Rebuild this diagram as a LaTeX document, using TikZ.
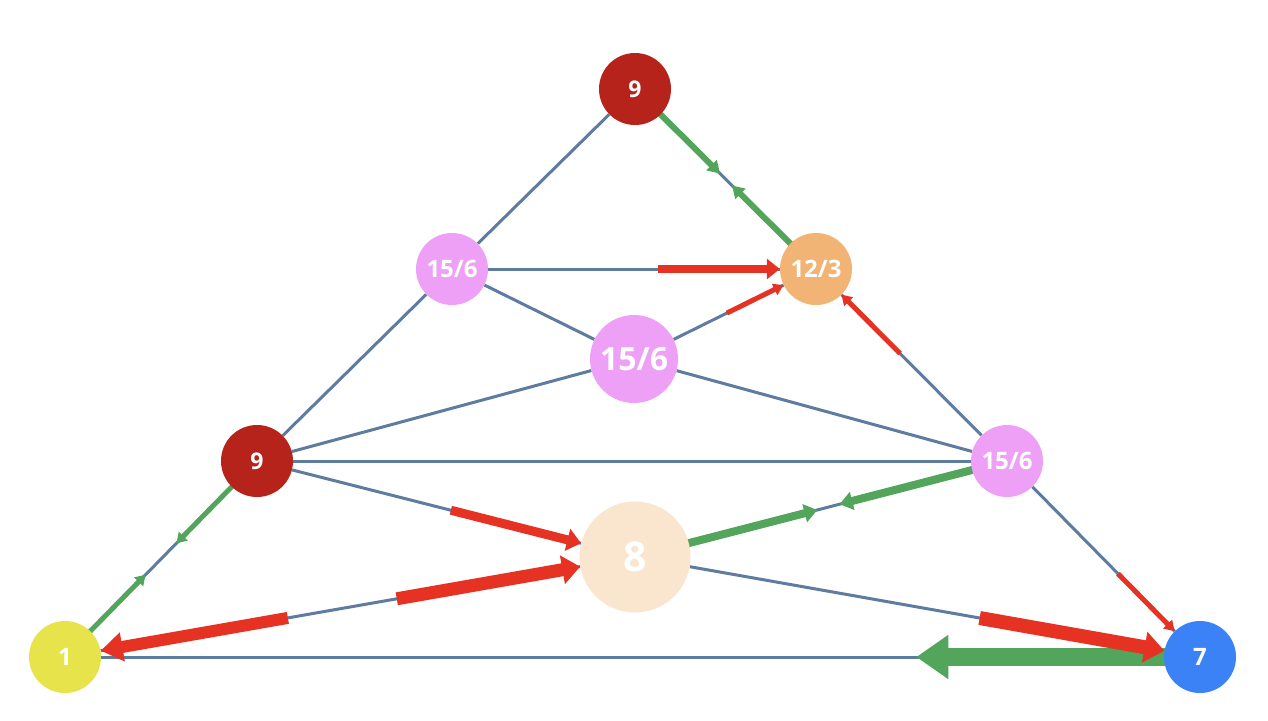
\documentclass[tikz,border=0pt]{standalone}
\usepackage{fontspec}
\setmainfont{Open Sans}
\usetikzlibrary{calc,arrows.meta,backgrounds}
\definecolor{edgeblue}{RGB}{94,124,160}
\definecolor{darkred}{RGB}{181,35,26}
\definecolor{peach}{RGB}{241,180,116}
\definecolor{pinkn}{RGB}{238,160,246}
\definecolor{cream}{RGB}{250,229,207}
\definecolor{bluen}{RGB}{59,130,246}
\definecolor{yellown}{RGB}{230,228,74}
\definecolor{greena}{RGB}{82,165,91}
\definecolor{reda}{RGB}{230,50,35}
\tikzset{
  vtx/.style={circle,inner sep=0pt,minimum size=72pt,text=white,font=\bfseries\fontsize{24}{24}\selectfont},
  link/.style={draw=edgeblue,line width=3pt},
  flowg/.style={draw=greena,line width=#1},
  flowr/.style={draw=reda,line width=#1},
}
\begin{document}
\begin{tikzpicture}[x=1pt,y=-1pt]
\useasboundingbox (0,0) rectangle (1268,720);
\node[vtx,fill=darkred,font=\bfseries\fontsize{23}{23}\selectfont] (top9) at (635,89) {9};
\node[vtx,fill=peach] (o123) at (816,269) {12/3};
\node[vtx,fill=pinkn] (lp) at (452,269) {15/6};
\node[vtx,fill=pinkn,minimum size=88pt,font=\bfseries\fontsize{32}{32}\selectfont] (mp) at (634,359) {15/6};
\node[vtx,fill=darkred,font=\bfseries\fontsize{23}{23}\selectfont] (lr) at (257,461) {9};
\node[vtx,fill=pinkn] (rp) at (1007,461) {15/6};
\node[vtx,fill=cream,minimum size=111pt,font=\bfseries\fontsize{41}{41}\selectfont] (eight) at (635,557) {8};
\node[vtx,fill=yellown] (one) at (65,657) {1};
\node[vtx,fill=bluen] (seven) at (1200,657) {7};
\begin{scope}[on background layer]
\fill[white] (0,0) rectangle (1268,720);
% blue links
\draw[link] (top9) -- (lp);
\draw[link] (lp) -- (lr);
\draw[link] (lr) -- (one);
\draw[link] (top9) -- (o123);
\draw[link] (o123) -- (rp);
\draw[link] (rp) -- (seven);
\draw[link] (one) -- (seven);
\draw[link] (lp) -- (o123);
\draw[link] (lp) -- (mp);
\draw[link] (mp) -- (o123);
\draw[link] (lr) -- (mp);
\draw[link] (mp) -- (rp);
\draw[link] (lr) -- (rp);
\draw[link] (lr) -- (eight);
\draw[link] (one) -- (eight);
\draw[link] (eight) -- (rp);
\draw[link] (eight) -- (seven);
% flows
\draw[flowg=6pt,-{Triangle[width=14pt,length=12pt]}] (top9.center) -- ($(top9)!0.47!(o123)$);
\draw[flowg=6pt,-{Triangle[width=14pt,length=12pt]}] (o123.center) -- ($(top9)!0.536!(o123)$);
\draw[flowr=8pt,-{Triangle[width=20pt,length=13pt]}] ($(lp)!0.566!(o123)$) -- (o123);
\draw[flowr=5pt,-{Triangle[width=12pt,length=10pt]}] ($(mp)!0.51!(o123)$) -- (o123);
\draw[flowr=5pt,-{Triangle[width=12pt,length=10pt]}] ($(rp)!0.56!(o123)$) -- (o123);
\draw[flowg=5pt,-{Triangle[width=12pt,length=10pt]}] (lr.center) -- ($(lr)!0.42!(one)$);
\draw[flowg=5pt,-{Triangle[width=12pt,length=10pt]}] (one.center) -- ($(lr)!0.58!(one)$);
\draw[flowr=9pt,-{Triangle[width=22pt,length=14pt]}] ($(lr)!0.513!(eight)$) -- (eight);
\draw[flowr=13pt,-{Triangle[width=28pt,length=18pt]}] ($(one)!0.582!(eight)$) -- (eight);
\draw[flowr=12pt,-{Triangle[width=28pt,length=22pt]}] ($(one)!0.391!(eight)$) -- (one);
\draw[flowg=8pt,-{Triangle[width=18pt,length=13pt]}] (eight.center) -- ($(eight)!0.49!(rp)$);
\draw[flowg=8pt,-{Triangle[width=18pt,length=13pt]}] (rp.center) -- ($(eight)!0.55!(rp)$);
\draw[flowg=18pt,-{Triangle[width=42pt,length=32pt]}] (seven.center) -- ($(seven)!0.25!(one)$);
\draw[flowr=14pt,-{Triangle[width=30pt,length=20pt]}] ($(eight)!0.61!(seven)$) -- (seven);
\draw[flowr=5pt,-{Triangle[width=12pt,length=10pt]}] ($(rp)!0.575!(seven)$) -- (seven);
\end{scope}
\end{tikzpicture}
\end{document}
